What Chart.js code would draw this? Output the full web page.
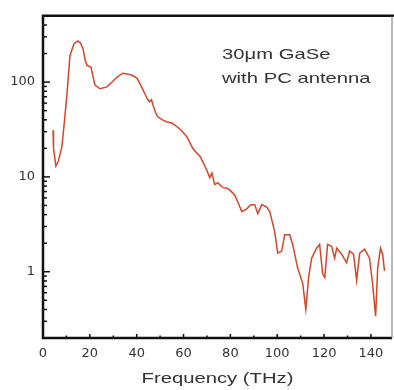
<!DOCTYPE html>
<html>
<head>
<meta charset="utf-8">
<script src="https://cdn.jsdelivr.net/npm/chart.js@4/dist/chart.umd.min.js"></script>
<style>
  html, body { margin: 0; padding: 0; background: #fff; }
  canvas { display: block; }
</style>
</head>
<body>
<canvas id="spectrum" width="394" height="390"></canvas>
<script>
// Frequency (THz) and amplitude
const frequency = [
  4.3, 4.5, 5.5, 6.5, 8.1, 9.2, 10.2, 11.5, 13.2, 14.9, 16.0, 17.1, 18.0, 18.8,
  20.5, 21.5, 22.2, 24.3, 27.3, 29.5, 31.6, 34.1, 36.0, 38.0, 40.1, 42.0, 44.3,
  45.5, 46.3, 46.9, 48.0, 49.0, 51.0, 52.9, 55.0, 57.1, 59.0, 61.4, 64.0, 65.5,
  67.0, 68.5, 69.9, 71.2, 72.1, 73.3, 74.6, 76.8, 78.5, 79.7, 81.9, 83.2, 84.9,
  87.0, 88.3, 89.1, 90.4, 91.7, 93.4, 95.5, 96.8, 98.9, 100.2, 101.9, 103.2,
  105.3, 106.6, 108.7, 110.9, 112.2, 113.4, 114.7, 116.8, 118.1, 119.4, 120.3,
  121.5, 123.2, 124.5, 125.4, 127.5, 129.6, 130.9, 132.6, 133.9, 135.2, 137.3,
  139.4, 140.7, 142.0, 142.9, 144.1, 145.0, 145.8
];
const amplitude = [
  31, 20, 13, 14.5, 21, 40, 73, 190, 252, 271, 258, 224, 170, 150,
  143, 110, 93, 85, 89, 100, 113, 124, 122, 118, 110, 90, 68,
  62, 65, 58, 48, 43, 40, 38, 37, 34, 31, 26.5, 19.9, 18,
  16.5, 14, 11.8, 9.8, 11, 8.3, 8.7, 7.7, 7.6, 7.3, 6.4, 5.4, 4.3,
  4.6, 5.0, 5.1, 5.1, 4.1, 5.1, 4.8, 4.3, 2.65, 1.57, 1.65, 2.46,
  2.46, 1.94, 1.1, 0.75, 0.40, 0.87, 1.39, 1.77, 1.94, 0.95, 0.87,
  1.94, 1.85, 1.39, 1.77, 1.53, 1.24, 1.65, 1.53, 0.81, 1.57, 1.73,
  1.39, 0.75, 0.34, 1.1, 1.77, 1.53, 1.02
];

const xTicks = [0, 20, 40, 60, 80, 100, 120, 140];
const xMinorTicks = [10, 30, 50, 70, 90, 110, 130];
const yTicks = [1, 10, 100];
const yMinorTicks = [0.2, 0.3, 0.4, 0.5, 0.6, 0.7, 0.8, 0.9,
  2, 3, 4, 5, 6, 7, 8, 9, 20, 30, 40, 50, 60, 70, 80, 90,
  200, 300, 400, 500];
const noteLines = ['30\u03bcm GaSe', 'with PC antenna'];
const xTitle = 'Frequency (THz)';

const points = frequency.map((f, i) => ({ x: f, y: amplitude[i] }));

// frame, inward ticks and the texts
const framePlugin = {
  id: 'frame',
  afterDraw(chart) {
    const { ctx, chartArea: a, scales: { x, y } } = chart;
    ctx.save();
    ctx.strokeStyle = '#111';
    ctx.lineWidth = 1.5;
    xTicks.forEach(v => {
      const px = x.getPixelForValue(v);
      ctx.beginPath(); ctx.moveTo(px, a.bottom); ctx.lineTo(px, a.bottom - 4); ctx.stroke();
    });
    xMinorTicks.forEach(v => {
      const px = x.getPixelForValue(v);
      ctx.beginPath(); ctx.moveTo(px, a.bottom); ctx.lineTo(px, a.bottom - 2.5); ctx.stroke();
    });
    yTicks.forEach(v => {
      const py = y.getPixelForValue(v);
      ctx.beginPath(); ctx.moveTo(a.left, py); ctx.lineTo(a.left + 7, py); ctx.stroke();
    });
    yMinorTicks.forEach(v => {
      const py = y.getPixelForValue(v);
      ctx.beginPath(); ctx.moveTo(a.left, py); ctx.lineTo(a.left + 4, py); ctx.stroke();
    });

    ctx.lineWidth = 2.5;
    ctx.beginPath();
    ctx.moveTo(a.right + 2, a.top);
    ctx.lineTo(a.left, a.top);
    ctx.lineTo(a.left, a.bottom);
    ctx.lineTo(a.right, a.bottom);
    ctx.stroke();
    ctx.strokeStyle = '#777';
    ctx.lineWidth = 1;
    ctx.beginPath();
    ctx.moveTo(a.right, a.top);
    ctx.lineTo(a.right, a.bottom);
    ctx.stroke();

    // stretched text, like the scanned figure
    ctx.fillStyle = '#333';
    ctx.font = '15px "Liberation Sans", Arial, sans-serif';
    ctx.textBaseline = 'alphabetic';
    const drawStretched = (text, px, py, align) => {
      ctx.save();
      ctx.translate(px, py);
      ctx.scale(1.35, 1);
      ctx.textAlign = align;
      ctx.fillText(text, 0, 0);
      ctx.restore();
    };
    drawStretched(noteLines[0], 222, 59, 'left');
    drawStretched(noteLines[1], 222, 83, 'left');
    drawStretched(xTitle, (a.left + a.right) / 2, 383, 'center');
    ctx.restore();
  }
};

new Chart(document.getElementById('spectrum'), {
  type: 'line',
  data: {
    datasets: [{
      data: points,
      borderColor: '#d4452a',
      borderWidth: 1.5,
      pointRadius: 0,
      tension: 0,
      fill: false
    }]
  },
  options: {
    responsive: false,
    animation: false,
    layout: { padding: { left: 0, right: 2, top: 9, bottom: 0 } },
    plugins: { legend: { display: false }, tooltip: { enabled: false } },
    scales: {
      x: {
        type: 'linear',
        min: 0,
        max: 149,
        grid: { display: false, drawTicks: false },
        border: { display: false },
        afterBuildTicks: s => { s.ticks = xTicks.map(v => ({ value: v })); },
        afterFit: s => { s.height = 52; },
        ticks: {
          padding: 8,
          color: '#333',
          maxRotation: 0,
          font: { family: '"DejaVu Sans", sans-serif', size: 13 },
          callback: v => String(v)
        }
      },
      y: {
        type: 'logarithmic',
        min: 0.2,
        max: 500,
        grid: { display: false, drawTicks: false },
        border: { display: false },
        afterBuildTicks: s => { s.ticks = yTicks.map(v => ({ value: v })); },
        afterFit: s => { s.width = 43; },
        ticks: {
          padding: 8,
          color: '#333',
          font: { family: '"DejaVu Sans", sans-serif', size: 13 },
          callback: v => String(v)
        }
      }
    }
  },
  plugins: [framePlugin]
});
</script>
</body>
</html>
